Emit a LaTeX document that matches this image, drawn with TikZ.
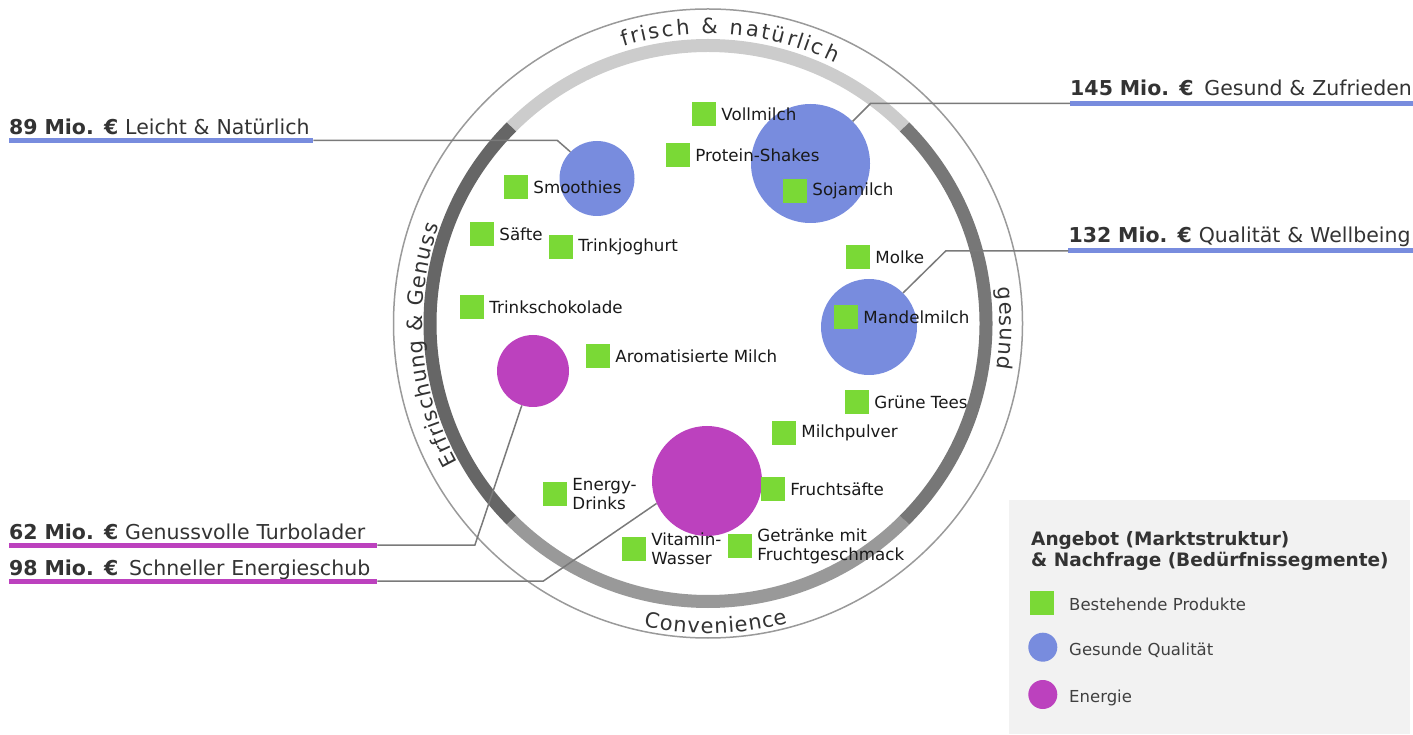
\documentclass[tikz,border=0pt]{standalone}
\usepackage{xcolor}
\definecolor{ProdGreen}{HTML}{7AD936}
\definecolor{SegBlue}{HTML}{788CDE}
\definecolor{SegMagenta}{HTML}{BC41BE}
\definecolor{RingTop}{HTML}{CCCCCC}
\definecolor{RingLeft}{HTML}{666666}
\definecolor{RingRight}{HTML}{777777}
\definecolor{RingBottom}{HTML}{999999}
\definecolor{RimGray}{HTML}{9A9A9A}
\definecolor{LineGray}{HTML}{7A7A7A}
\definecolor{TextDark}{HTML}{333333}
\definecolor{LegendBg}{HTML}{F2F2F2}
\usepackage{fontspec}
\setmainfont{DejaVu Sans}
\usepackage{tikz}
\usetikzlibrary{positioning, decorations.text}

\tikzset{
  prod/.style={rectangle, fill=ProdGreen, minimum size=24pt, inner sep=0pt},
  plabel/.style={font=\fontsize{16.7}{19}\selectfont, text=black!90, inner sep=0pt, align=left},
  seg/.style={circle, fill=#1, inner sep=0pt},
  conn/.style={draw=LineGray, line width=1.5pt},
  uline/.style={line width=5pt, draw=#1},
  callout/.style={font=\fontsize{20.5}{24}\selectfont, text=TextDark, inner xsep=0pt,
    text depth=0pt, anchor=south west, align=left},
  legtext/.style={font=\fontsize{16.5}{20}\selectfont, text=black!75, inner sep=0pt, anchor=base west},
  arctext/.style={decorate, decoration={text effects along path, text={#1},
    text effects/.cd, text along path, fit text to path,
    characters={font=\fontsize{21}{24}\selectfont, text=TextDark}}},
}

\begin{document}
\begin{tikzpicture}[x=1pt, y=1pt, label distance=5pt]
  \useasboundingbox (0,0) rectangle (1413,734);
  \coordinate (C) at (708,410.5);

  % rim and the four ring segments
  \draw[RimGray, line width=1.5pt] (C) circle[radius=314.5];
  \foreach \from/\to/\col in {45/135/RingTop, 135/225/RingLeft, 225/315/RingBottom, 315/405/RingRight}
    \draw[\col, line width=13pt] ([shift={(\from:278)}]C) arc[start angle=\from, end angle=\to, radius=278];

  \path[arctext={frisch {\&} natürlich}] ([shift={(107:290)}]C) arc[start angle=107, end angle=64, radius=290];
  \path[arctext={Erfrischung {\&} Genuss}] ([shift={(209:286)}]C) arc[start angle=209, end angle=160, radius=286];
  \path[arctext={gesund}] ([shift={(7:292)}]C) arc[start angle=7, end angle=-9, radius=292];
  \path[arctext={Convenience}] ([shift={(258:310)}]C) arc[start angle=258, end angle=285, radius=310];

  % segments
  \node[seg=SegBlue, minimum size=75pt] (smoo) at (597,555.5) {};
  \node[seg=SegBlue, minimum size=119pt] (soja) at (810.5,570.5) {};
  \node[seg=SegBlue, minimum size=96pt] (mandel) at (869,407) {};
  \node[seg=SegMagenta, minimum size=72pt] (turbo) at (533,363) {};
  \node[seg=SegMagenta, minimum size=110pt] (schub) at (707,253) {};

  % products
  \node[prod, label={[plabel]right:Vollmilch}] (vollmilch) at (704,620) {};
  \node[prod, label={[plabel]right:Protein-Shakes}] (protein) at (678,579) {};
  \node[prod, label={[plabel]right:Smoothies}] (smoothies) at (516,547) {};
  \node[prod, label={[plabel]right:Sojamilch}] (sojamilch) at (795,543) {};
  \node[prod, label={[plabel]right:Säfte}] (saefte) at (482,500) {};
  \node[prod, label={[plabel]right:Trinkjoghurt}] (joghurt) at (561,487) {};
  \node[prod, label={[plabel]right:Molke}] (molke) at (858,477) {};
  \node[prod, label={[plabel]right:Trinkschokolade}] (schoko) at (472,427) {};
  \node[prod, label={[plabel]right:Mandelmilch}] (mandelmilch) at (846,417) {};
  \node[prod, label={[plabel]right:Aromatisierte Milch}] (aroma) at (598,378) {};
  \node[prod, label={[plabel]right:Grüne Tees}] (tees) at (857,332) {};
  \node[prod, label={[plabel]right:Milchpulver}] (pulver) at (784,301) {};
  \node[prod, label={[plabel]right:Energy-\\Drinks}] (energy) at (555,240) {};
  \node[prod, label={[plabel]right:Fruchtsäfte}] (fruchtsaefte) at (773,245) {};
  \node[prod, label={[plabel]right:Vitamin-\\Wasser}] (vitamin) at (634,185) {};
  \node[prod, label={[plabel]right:Getränke mit\\Fruchtgeschmack}] (getraenke) at (740,188) {};

  % callouts: label, underline, leader to the segment
  \node[callout, text width=304pt, inner ysep=5.5pt] (lblLeicht) at (9,593.5) {\mbox{\textbf{89 Mio. €} Leicht \& Natürlich}};
  \draw[uline=SegBlue] (lblLeicht.south west) -- (lblLeicht.south east);
  \draw[conn] (lblLeicht.south east) -- ++(244,0) -- (smoo.135);

  \node[callout, text width=343pt, inner ysep=8pt] (lblZufrieden) at (1070,630.7) {\mbox{\textbf{145 Mio. €}\hspace{4pt} Gesund \& Zufrieden}};
  \draw[uline=SegBlue] (lblZufrieden.south west) -- (lblZufrieden.south east);
  \draw[conn] (lblZufrieden.south west) -- ++(-199.3,0) -- (soja.45);

  \node[callout, text width=344.7pt, inner ysep=8pt] (lblWellbeing) at (1068.3,483) {\mbox{\textbf{132 Mio. €} Qualität \& Wellbeing}};
  \draw[uline=SegBlue] (lblWellbeing.south west) -- (lblWellbeing.south east);
  \draw[conn] (lblWellbeing.south west) -- ++(-122.6,0) -- (mandel.45);

  \node[callout, text width=368pt, inner ysep=5pt] (lblTurbo) at (9,189) {\mbox{\textbf{62 Mio. €} Genussvolle Turbolader}};
  \draw[uline=SegMagenta] (lblTurbo.south west) -- (lblTurbo.south east);
  \draw[conn] (lblTurbo.south east) -- ++(97.5,0) -- (turbo.252);

  \node[callout, text width=368pt, inner ysep=5pt] (lblSchub) at (9,153) {\mbox{\textbf{98 Mio. €}\hspace{4pt} Schneller Energieschub}};
  \draw[uline=SegMagenta] (lblSchub.south west) -- (lblSchub.south east);
  \draw[conn] (lblSchub.south east) -- ++(166,0) -- (schub.204);

  % legend
  \fill[LegendBg] (1009,0) rectangle (1410,234);
  \node[font=\fontsize{18.5}{21.7}\selectfont\bfseries, text=TextDark, align=left, anchor=north west, inner sep=0pt]
    (legTitle) at (1031,203) {Angebot (Marktstruktur)\\\& Nachfrage (Bedürfnissegmente)};
  \node[prod] (legProd) at (1042,131) {};
  \node[seg=SegBlue, minimum size=29pt] (legBlue) at (1042.8,86.8) {};
  \node[seg=SegMagenta, minimum size=29pt] (legMag) at (1042.8,39.5) {};
  \node[legtext] (legProdText) at (1069,124) {Bestehende Produkte};
  \node[legtext] (legBlueText) at (1069,78.3) {Gesunde Qualität};
  \node[legtext] (legMagText) at (1069,32) {Energie};
\end{tikzpicture}
\end{document}
